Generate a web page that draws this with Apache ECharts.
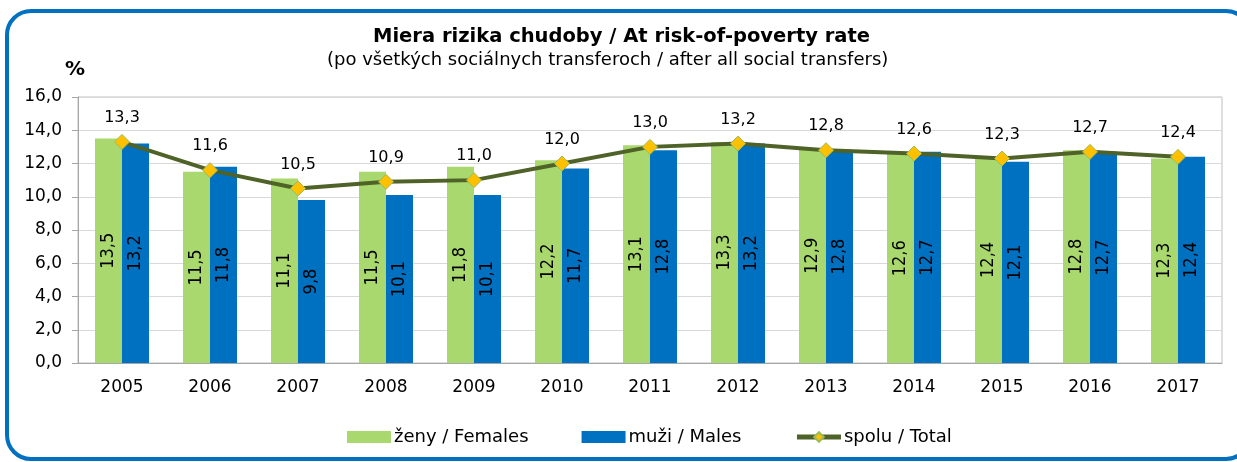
<!DOCTYPE html>
<html>
<head>
<meta charset="utf-8">
<script src="https://cdn.jsdelivr.net/npm/echarts@6/dist/echarts.min.js"></script>
<style>
html,body{margin:0;padding:0;background:#fff;}
#c{width:1237px;height:462px;}
</style>
</head>
<body>
<div id="c"></div>
<script>
const categories = ['2005','2006','2007','2008','2009','2010','2011','2012','2013','2014','2015','2016','2017'];
const females = [13.5, 11.5, 11.1, 11.5, 11.8, 12.2, 13.1, 13.3, 12.9, 12.6, 12.4, 12.8, 12.3];
const males   = [13.2, 11.8, 9.8, 10.1, 10.1, 11.7, 12.8, 13.2, 12.8, 12.7, 12.1, 12.7, 12.4];
const total   = [13.3, 11.6, 10.5, 10.9, 11.0, 12.0, 13.0, 13.2, 12.8, 12.6, 12.3, 12.7, 12.4];
const seriesNames = ['ženy / Females', 'muži / Males', 'spolu / Total'];
const titleText = 'Miera rizika chudoby / At risk-of-poverty rate';
const subtitleText = '(po všetkých sociálnych transferoch / after all social transfers)';

const FONT = 'DejaVu Sans';
const NARROW = '"Liberation Sans Narrow", "DejaVu Sans Condensed", sans-serif';
const fmt = v => (typeof v === 'object' ? v.value : v).toFixed(1).replace('.', ',');

const chart = echarts.init(document.getElementById('c'), null, {renderer: 'canvas'});
chart.setOption({
  animation: false,
  backgroundColor: '#fff',
  textStyle: {fontFamily: FONT},
  graphic: [
    {type: 'rect', z: 100, silent: true,
     shape: {x: 7, y: 11, width: 1243, height: 448, r: 24},
     style: {fill: 'none', stroke: '#0070C0', lineWidth: 4}},
    {type: 'text', left: 65, top: 60,
     style: {text: '%', font: 'bold 20px "DejaVu Sans"', fill: '#000'}}
  ],
  title: [
    {
      text: titleText,
      left: 373, top: 27, padding: 0,
      textStyle: {fontFamily: FONT, fontWeight: 'bold', fontSize: 19.5, color: '#000'}
    },
    {
      text: subtitleText,
      left: 327, top: 51, padding: 0,
      textStyle: {fontFamily: FONT, fontWeight: 'normal', fontSize: 18, color: '#000'}
    }
  ],
  grid: {left: 78, right: 15, top: 97, bottom: 99, show: true, borderColor: '#BFBFBF', borderWidth: 1, containLabel: false},
  legend: {
    left: 347, top: 428, padding: 0,
    itemWidth: 44, itemHeight: 12, itemGap: 53,
    textStyle: {fontFamily: FONT, fontSize: 18, color: '#000', padding: [0,0,0,-2]},
    data: [
      {name: seriesNames[0], icon: 'rect'},
      {name: seriesNames[1], icon: 'rect'},
      {name: seriesNames[2]}
    ],
    lineStyle: {width: 5}
  },
  xAxis: {
    type: 'category',
    data: categories,
    axisLine: {lineStyle: {color: '#A6A6A6', width: 1}},
    axisTick: {show: false},
    axisLabel: {color: '#000', fontSize: 17, fontFamily: FONT, margin: 16}
  },
  yAxis: {
    type: 'value',
    min: 0, max: 16, interval: 2,
    axisLine: {show: true, lineStyle: {color: '#A6A6A6'}},
    axisTick: {show: true, inside: false, length: 6, lineStyle: {color: '#A6A6A6'}},
    axisLabel: {color: '#000', fontSize: 17, fontFamily: FONT, margin: 16, formatter: v => v.toFixed(1).replace('.', ',')},
    splitLine: {lineStyle: {color: '#D9D9D9', width: 1}}
  },
  series: [
    {
      name: seriesNames[0], type: 'bar', data: females,
      barWidth: 27, barGap: '0%',
      itemStyle: {color: '#A9D86E'},
      label: {show: true, position: 'inside', rotate: 90, color: '#000', fontSize: 18, fontFamily: NARROW, formatter: p => fmt(p.value)}
    },
    {
      name: seriesNames[1], type: 'bar', data: males,
      barWidth: 27, barGap: '0%',
      itemStyle: {color: '#0070C0'},
      label: {show: true, position: 'inside', rotate: 90, color: '#000', fontSize: 18, fontFamily: NARROW, formatter: p => fmt(p.value)}
    },
    {
      name: seriesNames[2], type: 'line', data: total,
      symbol: 'diamond', symbolSize: 15,
      lineStyle: {color: '#4F6228', width: 4},
      itemStyle: {color: '#FFC000', borderColor: '#9BBB59', borderWidth: 1},
      label: {show: true, position: 'top', distance: 8, color: '#000', fontSize: 16, fontFamily: FONT, formatter: p => fmt(p.value)},
      z: 5
    }
  ]
});
</script>
</body>
</html>
